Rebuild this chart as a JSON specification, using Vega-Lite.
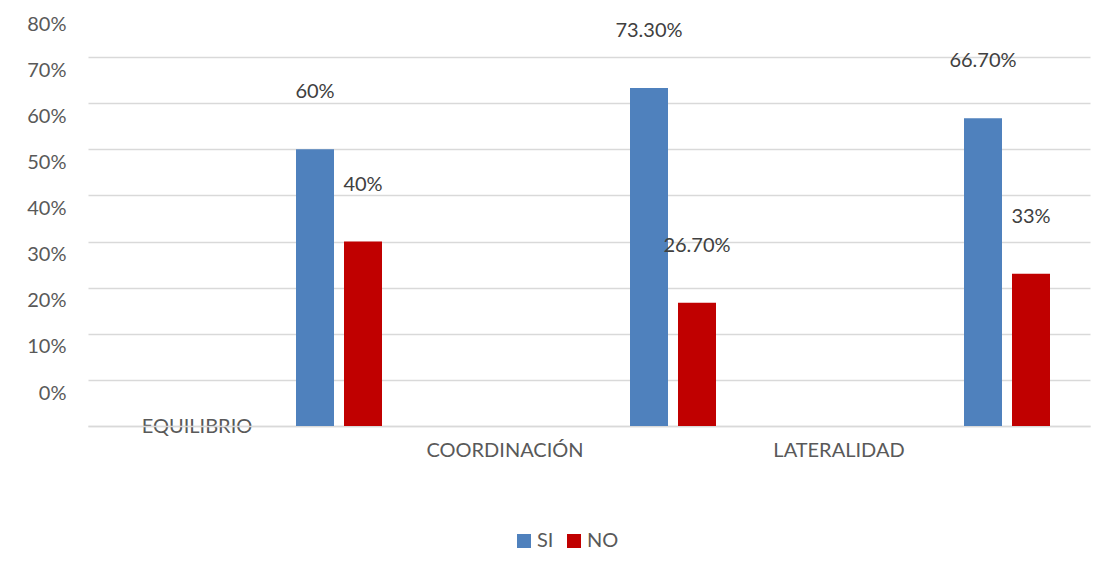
{
  "$schema": "https://vega.github.io/schema/vega-lite/v6.json",
  "width": 1002,
  "height": 369,
  "autosize": {"type": "none"},
  "padding": {"left": 88, "top": 57, "right": 14, "bottom": 144},
  "background": "white",
  "config": {
    "view": {"stroke": null},
    "font": "Lato",
    "axis": {"labelFont": "Lato", "labelColor": "#595959", "labelFontSize": 20}
  },
  "data": {
    "values": [
      {"categoria": "EQUILIBRIO", "serie": "SI", "valor": 0.60, "etiqueta": "60%"},
      {"categoria": "EQUILIBRIO", "serie": "NO", "valor": 0.40, "etiqueta": "40%"},
      {"categoria": "COORDINACIÓN", "serie": "SI", "valor": 0.733, "etiqueta": "73.30%"},
      {"categoria": "COORDINACIÓN", "serie": "NO", "valor": 0.267, "etiqueta": "26.70%"},
      {"categoria": "LATERALIDAD", "serie": "SI", "valor": 0.667, "etiqueta": "66.70%"},
      {"categoria": "LATERALIDAD", "serie": "NO", "valor": 0.33, "etiqueta": "33%"}
    ]
  },
  "encoding": {
    "x": {
      "field": "categoria",
      "type": "nominal",
      "sort": null,
      "scale": {"paddingInner": 0, "paddingOuter": 0},
      "axis": {
        "title": null,
        "labelAngle": 0,
        "ticks": false,
        "grid": false,
        "domainColor": "#d9d9d9",
        "domainWidth": 1.5,
        "labelBaseline": "middle",
        "labelOffset": {"condition": {"test": "datum.value === 'EQUILIBRIO'", "value": -58}, "value": -84},
        "labelPadding": {"condition": {"test": "datum.value === 'EQUILIBRIO'", "value": 0}, "value": 24}
      }
    },
    "xOffset": {
      "field": "serie",
      "type": "nominal",
      "scale": {"domain": ["h1", "h2", "h3", "h4", "SI", "NO"], "paddingInner": 0.20833, "paddingOuter": 0.5833, "align": 0.2857}
    },
    "y": {
      "field": "valor",
      "type": "quantitative",
      "scale": {"domain": [0, 0.8]},
      "axis": {
        "title": null,
        "format": ".0%",
        "values": [0, 0.1, 0.2, 0.3, 0.4, 0.5, 0.6, 0.7, 0.8],
        "ticks": false,
        "domain": false,
        "gridColor": "#d9d9d9",
        "gridWidth": 1.5,
        "labelPadding": 22,
        "labelOffset": -33
      }
    }
  },
  "layer": [
    {
      "mark": {"type": "bar"},
      "encoding": {
        "color": {
          "field": "serie",
          "type": "nominal",
          "scale": {"domain": ["SI", "NO"], "range": ["#4f81bd", "#c00000"]},
          "legend": {
            "title": null,
            "orient": "none",
            "direction": "horizontal",
            "legendX": 426,
            "legendY": 474,
            "symbolType": "square",
            "symbolSize": 196,
            "symbolStrokeWidth": 0,
            "labelFont": "Lato",
            "labelFontSize": 20,
            "labelColor": "#595959",
            "labelOffset": 3,
            "columnPadding": 10
          }
        }
      }
    },
    {
      "mark": {"type": "text", "dy": -57, "baseline": "middle", "align": "center", "font": "Lato", "fontSize": 20, "color": "#404040"},
      "encoding": {"text": {"field": "etiqueta"}}
    }
  ]
}
